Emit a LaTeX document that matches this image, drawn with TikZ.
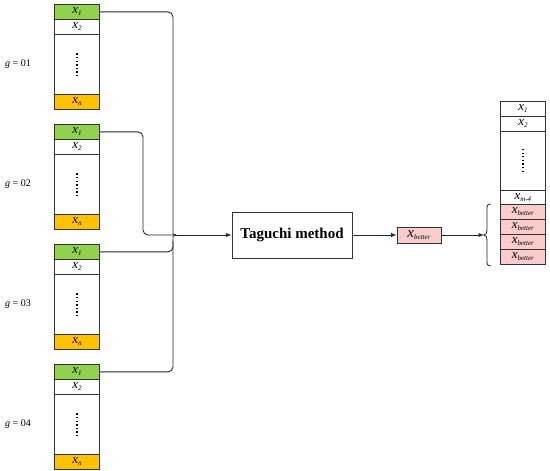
\documentclass[tikz,border=0pt]{standalone}
\usepackage{fontspec}
\setmainfont{Liberation Serif}
\usepackage{xcolor}

\definecolor{cellgreen}{RGB}{146,208,80}
\definecolor{cellorange}{RGB}{255,192,0}
\definecolor{cellpink}{RGB}{250,204,204}
\newcommand{\xsub}[1]{\textit{x}{\fontsize{7}{7}\selectfont\raisebox{-1.8pt}{\textit{#1}}}}

\begin{document}
\begin{tikzpicture}[x=1pt, y=-1pt, >=latex,
  cell/.style={draw=black!80, line width=0.8pt, minimum width=45pt,
    minimum height=15pt, inner sep=0pt, anchor=north west,
    font=\fontsize{13}{13}\selectfont},
  wire/.style={line width=0.9pt, black!85},
  vdots/.style={line width=1.3pt, dash pattern=on 1.3pt off 2.3pt}]
  \useasboundingbox (0,0) rectangle (550,471);
  % Four generations of candidates
  \foreach \g/\gy in {1/4, 2/124, 3/244, 4/364} {
    \begin{scope}[shift={(0,\gy)}]
      \node[font=\fontsize{10}{10}\selectfont] (lab\g) at (18,60) {\textit{g} = 0\g};
      \node[cell, fill=cellgreen] (g\g-1) at (54,0) {\xsub{1}};
      \node[cell] (g\g-2) at (54,15) {\xsub{2}};
      \node[cell, minimum height=60pt] (g\g-d) at (54,30) {};
      \draw[vdots] ([yshift=11pt]g\g-d.center) -- ([yshift=-11pt]g\g-d.center);
      \node[cell, fill=cellorange] (g\g-n) at (54,90) {\xsub{n}};
    \end{scope}
  }
  % Feed lines into the junction
  \coordinate (jn) at (176,235);
  \coordinate (jup) at (173,229);
  \coordinate (jlo) at (173,241);
  \draw[wire, rounded corners=5pt] (g1-1.east) -| (jup)
    .. controls (173,233) and (174,235) .. (jn);
  \draw[wire, rounded corners=5pt] (g4-1.east) -| (jlo)
    .. controls (173,237) and (174,235) .. (jn);
  \draw[wire, rounded corners=5pt] (g3-1.east) -| (jlo);
  \draw[wire, rounded corners=5pt] (g2-1.east) -| (143,235) -- (jn);
  % Taguchi step
  \node[draw=black!80, line width=0.9pt, minimum width=120pt, minimum height=46pt,
    font=\bfseries\fontsize{15}{15}\selectfont] (tag) at (292,235) {Taguchi method};
  \draw[wire, ->] (jn) -- (tag);
  \node[draw=black!80, line width=0.8pt, fill=cellpink, minimum width=44pt,
    minimum height=16pt, inner sep=0pt, font=\fontsize{15}{15}\selectfont]
    (xb) at (419,235) {\xsub{better}};
  \draw[wire, ->] (tag) -- (xb);
  % New population
  \node[cell] (r1) at (500,101) {\xsub{1}};
  \node[cell] (r2) at (500,116) {\xsub{2}};
  \node[cell, minimum height=59pt] (rd) at (500,131) {};
  \draw[vdots] ([yshift=12pt]rd.center) -- ([yshift=-12pt]rd.center);
  \node[cell, minimum height=14pt] (rm) at (500,190) {\xsub{m-4}};
  \foreach \i in {1,...,4}
    \node[cell, fill=cellpink] (rb\i) at (500,{189+15*\i}) {\xsub{better}};
  % Brace over the replaced rows
  \coordinate (brtip) at (484,235);
  \draw[wire, line width=0.8pt] (491,204) .. controls (487,204) and (487,206) .. (487,210)
    -- (487,230) .. controls (487,233) and (486,235) .. (brtip)
    .. controls (486,235) and (487,237) .. (487,240)
    -- (487,260) .. controls (487,264) and (487,266) .. (491,266);
  \draw[wire, ->] (xb) -- (brtip);
\end{tikzpicture}
\end{document}
